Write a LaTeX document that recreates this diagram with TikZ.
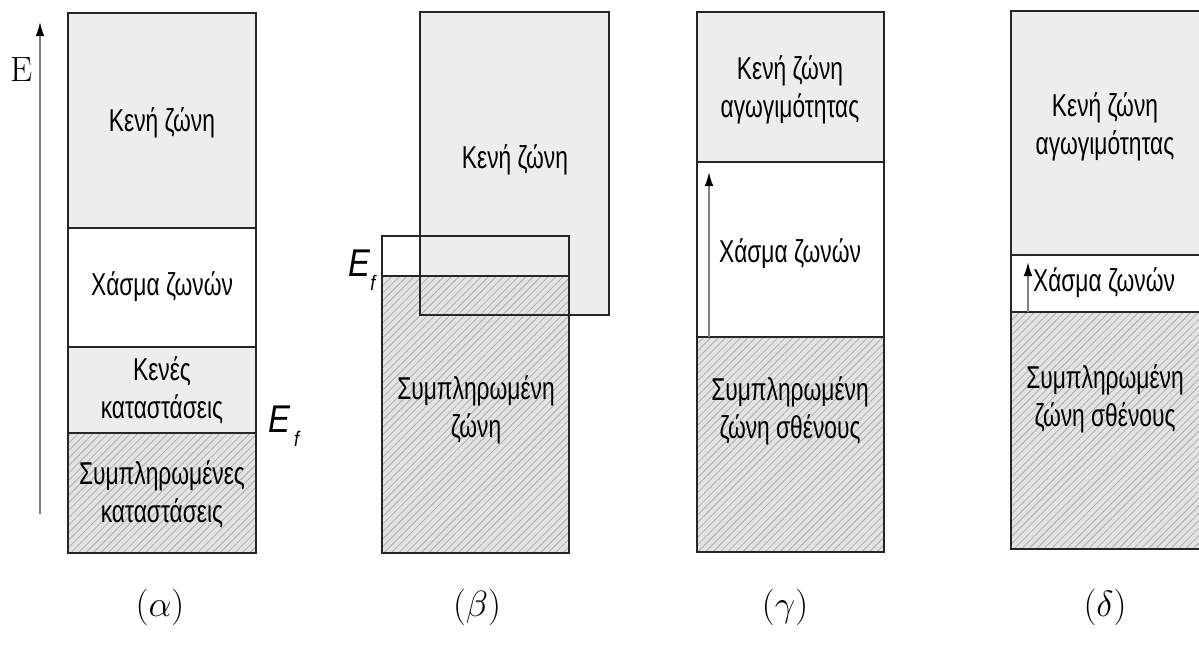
\documentclass[tikz,border=0pt]{standalone}
\usepackage{fontspec}
\newfontfamily\grf[FakeStretch=0.72]{Liberation Sans}
\newfontfamily\eff[FakeStretch=0.85]{Liberation Sans}
\usetikzlibrary{patterns.meta,arrows.meta}
\begin{document}
\begin{tikzpicture}[x=0.02cm,y=-0.02cm,
  emptyz/.style={fill=gray!14},
  fullz/.style={preaction={fill=gray!22},pattern={Lines[angle=45,distance=3pt,line width=0.45pt]},pattern color=gray!65},
  boxline/.style={line width=1.1pt,draw=black!85},
  lbl/.style={font=\grf\fontsize{18}{21.5}\selectfont,align=center,inner sep=0pt},
  panelcap/.style={font=\fontsize{21}{24}\selectfont,inner sep=0pt},
  efl/.style={font=\eff\itshape\fontsize{22}{24}\selectfont,inner sep=0pt},
  earrow/.style={draw=gray,line width=1pt,-{Latex[length=8pt,width=5pt,color=black]}}
]
\useasboundingbox (0,0) rectangle (1199,646);
% ---------- panel (a)
\path[emptyz] (68,13) rectangle (256,228);
\path[emptyz] (68,347) rectangle (256,433);
\path[fullz] (68,433) rectangle (256,553);
\draw[boxline] (68,13) rectangle (256,553);
\draw[boxline] (68,228) -- (256,228);
\draw[boxline] (68,347) -- (256,347);
\draw[boxline] (68,433) -- (256,433);
\coordinate (a0) at (40,514);
\coordinate (a1) at (40,22);
\draw[earrow] (a0) -- (a1);
\node[inner sep=0pt,font=\fontsize{20}{22}\selectfont] (aE) at (22,70) {E};
\node[lbl] (a1t) at (162,123) {Κενή ζώνη};
\node[lbl] (a2t) at (162,287) {Χάσμα ζωνών};
\node[lbl] (a3t) at (162,390) {Κενές\\καταστάσεις};
\node[lbl] (a4t) at (162,494) {Συμπληρωμένες\\καταστάσεις};
\node[efl] (aEf) at (284,426) {E\raisebox{-0.35em}{\fontsize{12}{12}\selectfont\,f}};
\node[panelcap] (acap) at (160,607) {$(\alpha)$};
% ---------- panel (b)
\path[fill=white] (382,236) rectangle (569,276);
\path[emptyz] (420,12) rectangle (609,315);
\path[fullz] (382,276) rectangle (569,553);
\draw[boxline] (382,236) rectangle (569,553);
\draw[boxline] (382,276) -- (569,276);
\draw[boxline] (420,12) rectangle (609,315);
\node[lbl] (b1t) at (515,160) {Κενή ζώνη};
\node[lbl] (b2t) at (476,410) {Συμπληρωμένη\\ζώνη};
\node[efl] (bEf) at (362,270) {E\raisebox{-0.35em}{\fontsize{12}{12}\selectfont f}};
\node[panelcap] (bcap) at (477,607) {$(\beta)$};
% ---------- panel (c)
\path[emptyz] (697,12) rectangle (884,162);
\path[fullz] (697,337) rectangle (884,552);
\draw[boxline] (697,12) rectangle (884,552);
\draw[boxline] (697,162) -- (884,162);
\draw[boxline] (697,337) -- (884,337);
\coordinate (c0) at (709,337);
\coordinate (c1) at (709,172);
\draw[earrow] (c0) -- (c1);
\node[lbl] (c1t) at (790,90) {Κενή ζώνη\\αγωγιμότητας};
\node[lbl] (c2t) at (790,254) {Χάσμα ζωνών};
\node[lbl] (c3t) at (790,411) {Συμπληρωμένη\\ζώνη σθένους};
\node[panelcap] (ccap) at (785,607) {$(\gamma)$};
% ---------- panel (d)
\path[emptyz] (1011,11) rectangle (1205,255);
\path[fullz] (1011,312) rectangle (1205,549);
\draw[boxline] (1011,11) rectangle (1205,549);
\draw[boxline] (1011,255) -- (1205,255);
\draw[boxline] (1011,312) -- (1205,312);
\coordinate (d0) at (1028,312);
\coordinate (d1) at (1028,262);
\draw[earrow] (d0) -- (d1);
\node[lbl] (d1t) at (1105,127) {Κενή ζώνη\\αγωγιμότητας};
\node[lbl] (d2t) at (1104,283) {Χάσμα ζωνών};
\node[lbl] (d3t) at (1105,399) {Συμπληρωμένη\\ζώνη σθένους};
\node[panelcap] (dcap) at (1105,607) {$(\delta)$};
\end{tikzpicture}
\end{document}
